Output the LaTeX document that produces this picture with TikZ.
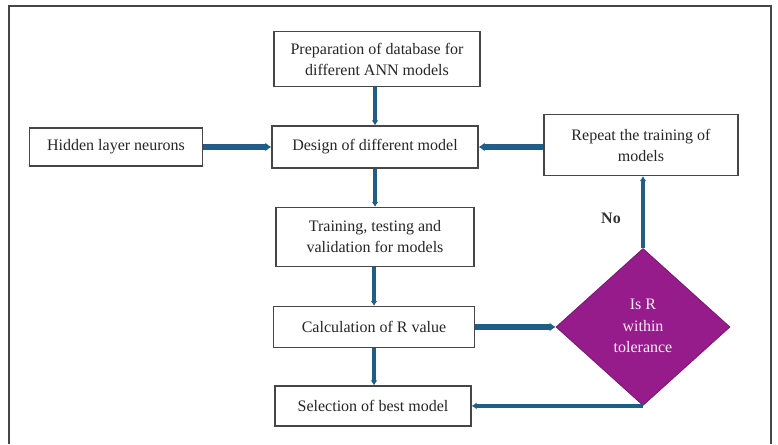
\documentclass[tikz,border=0pt]{standalone}
\usepackage{fontspec}
\setmainfont{Liberation Serif}
\usetikzlibrary{shapes.geometric,arrows.meta}
\definecolor{flowblue}{RGB}{33,94,134}
\definecolor{boxgray}{RGB}{70,70,70}
\definecolor{dpurple}{RGB}{150,28,140}
\begin{document}
\begin{tikzpicture}[x=1pt,y=-1pt,
  stepbox/.style={draw=boxgray,line width=1.4pt,fill=white,align=center,inner sep=0pt,font=\fontsize{16}{21}\selectfont,text=black!85},
  vflow/.style={draw=flowblue,line width=3.5pt,-{Latex[length=5pt,width=7pt]}},
  hflow/.style={draw=flowblue,line width=5.5pt,-{Latex[length=6pt,width=9pt]}}]
\useasboundingbox (0,0) rectangle (778,444);
\draw[boxgray,line width=1.2pt] (9,444) -- (9,6) -- (771,6) -- (771,444);
\node[stepbox,minimum width=206pt,minimum height=55pt] (prep) at (377,59) {Preparation of database for\\different ANN models};
\node[stepbox,minimum width=173pt,minimum height=38pt] (hid) at (116,147) {Hidden layer neurons};
\node[stepbox,minimum width=206pt,minimum height=42pt] (des) at (375,147) {Design of different model};
\node[stepbox,minimum width=194pt,minimum height=61pt] (rep) at (641,145) {Repeat the training of\\models};
\node[stepbox,minimum width=198pt,minimum height=59pt] (tr) at (375,237) {Training, testing and\\validation for models};
\node[stepbox,minimum width=201pt,minimum height=41pt] (calc) at (374,327) {Calculation of R value};
\node[stepbox,minimum width=196pt,minimum height=40pt] (sel) at (373,406) {Selection of best model};
\node[diamond,fill=dpurple,draw=dpurple!80!black,line width=0.8pt,minimum width=174pt,minimum height=157pt,inner sep=0pt,aspect=1.1] (dia) at (643,327) {};
\node[text=white!92!magenta,align=center,font=\fontsize{16}{21.5}\selectfont] (diat) at (643,326) {Is R\\within\\tolerance};
\draw[vflow] (prep.south -| des.north) -- (des.north);
\draw[hflow] (hid.east) -- (des.west);
\draw[hflow] (rep.west |- des.east) -- (des.east);
\draw[vflow] (des.south) -- (des.south |- tr.north);
\draw[vflow] (calc.north |- tr.south) -- (calc.north);
\draw[hflow] (calc.east) -- (dia.west);
\draw[vflow] (calc.south) -- (calc.south |- sel.north);
\draw[vflow] (dia.north) -- (dia.north |- rep.south);
\draw[vflow] (dia.south) -- (sel.east |- dia.south);
\node[font=\fontsize{16}{18}\selectfont\bfseries,text=black!80] (no) at (611,218) {No};
\end{tikzpicture}
\end{document}
